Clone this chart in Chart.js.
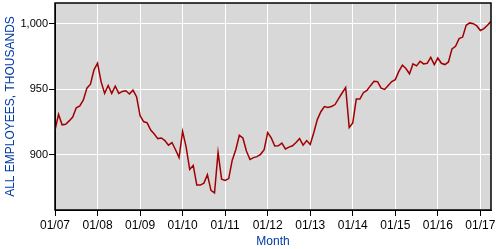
<!DOCTYPE html>
<html lang="en">
<head>
  <meta charset="UTF-8">
  <title>All employees, thousands</title>
  <style>
    html, body { margin: 0; padding: 0; background: #fff; }
  </style>
</head>
<body>
  <canvas id="myChart" width="496" height="249"></canvas>
  <script src="https://cdn.jsdelivr.net/npm/chart.js"></script>
  <script>
    // Tick labels (one per January) and y ticks
    var yearTicks = ['01/07', '01/08', '01/09', '01/10', '01/11', '01/12', '01/13', '01/14', '01/15', '01/16', '01/17'];
    var yTicks = [900, 950, 1000];

    // Monthly values, 01/2007 .. 04/2017, thousands
    var employees = [
      919, 931, 923, 923.5, 926, 929, 936, 937.5, 942, 951, 954, 965,
      970, 956, 947, 953, 947, 952.5, 947, 948.5, 949, 946.5, 949.5, 944.5,
      930, 925.5, 924.5, 919, 916, 912.5, 913, 911, 907.5, 909.5, 904, 898,
      918, 906, 889, 892, 877, 877, 878.5, 885, 873, 871, 902, 881.5,
      880.5, 882, 896, 904, 915, 913, 903, 896.5, 898, 898.7, 900.5, 904,
      917, 913, 906.8, 907, 909, 904.6, 906, 907, 909.5, 912.5, 907.5, 911,
      908, 917, 927, 933, 937, 936.3, 937, 938.5, 943, 947.3, 951.5, 921,
      924.5, 942.7, 942.7, 947.5, 949.3, 952.9, 956.2, 956, 951, 950, 953, 956,
      957.5, 963.8, 968.5, 966, 962, 969.5, 968, 971.5, 969.5, 970, 974.5, 969,
      974, 970, 969, 971, 981, 983, 988.8, 990, 999, 1000.8, 1000.2, 998.5,
      995, 996.5, 999, 1002
    ];

    var points = employees.map(function(v, i) {
      return {x: i, y: v};
    });

    // gray plot background and black frame round the plot
    var plotFrame = {
      id: 'plotFrame',
      beforeDraw: function(chart) {
        var a = chart.chartArea, c = chart.ctx;
        c.save();
        c.fillStyle = '#d8d8d8';
        c.fillRect(a.left, a.top, a.right - a.left, a.bottom - a.top);
        c.restore();
      },
      afterDraw: function(chart) {
        var a = chart.chartArea, c = chart.ctx;
        c.save();
        c.strokeStyle = '#000';
        c.lineWidth = 1.5;
        c.strokeRect(a.left, a.top, a.right - a.left, a.bottom - a.top);
        c.restore();
      }
    };

    var blue = '#0039a6';
    var font = 'Liberation Sans, Arial, sans-serif';

    var ctx = document.getElementById('myChart').getContext('2d');
    var myChart = new Chart(ctx, {
      type: 'line',
      data: {
        datasets: [{
          data: points,
          borderColor: '#a00000',
          borderWidth: 1.5,
          pointRadius: 0,
          tension: 0,
          fill: false
        }]
      },
      options: {
        responsive: false,
        animation: false,
        layout: { padding: { top: 3, right: 5, left: 0, bottom: 0 } },
        plugins: {
          legend: { display: false },
          tooltip: { enabled: false }
        },
        scales: {
          x: {
            type: 'linear',
            min: 0,
            max: employees.length - 1,
            afterBuildTicks: function(scale) {
              scale.ticks = yearTicks.map(function(t, i) { return {value: i * 12}; });
            },
            afterFit: function(scale) {
              scale.height = 39;
              scale.paddingLeft = 0;
              scale.paddingRight = 0;
            },
            grid: { color: '#fff', lineWidth: 1, tickColor: '#000', tickLength: 6 },
            border: { color: '#000', width: 1 },
            ticks: {
              color: '#000',
              font: { family: font, size: 12 },
              padding: 2,
              maxRotation: 0,
              autoSkip: false,
              callback: function(v) { return yearTicks[Math.round(v / 12)]; }
            },
            title: {
              display: true,
              text: 'Month',
              color: blue,
              font: { family: font, size: 12 },
              padding: 0
            }
          },
          y: {
            min: 858,
            max: 1016,
            afterBuildTicks: function(scale) {
              scale.ticks = yTicks.map(function(v) { return {value: v}; });
            },
            afterFit: function(scale) {
              scale.width = 55;
              scale.paddingTop = 0;
              scale.paddingBottom = 0;
            },
            grid: { color: '#fff', lineWidth: 1, tickColor: '#000', tickLength: 6 },
            border: { color: '#000', width: 1 },
            ticks: {
              color: '#000',
              font: { family: font, size: 11 },
              padding: 1,
              callback: function(v) { return v.toLocaleString('en-US'); }
            },
            title: {
              display: true,
              text: 'ALL EMPLOYEES, THOUSANDS',
              color: blue,
              font: { family: font, size: 12 },
              padding: { top: 3, bottom: 0 }
            }
          }
        }
      },
      plugins: [plotFrame]
    });
  </script>
</body>
</html>
